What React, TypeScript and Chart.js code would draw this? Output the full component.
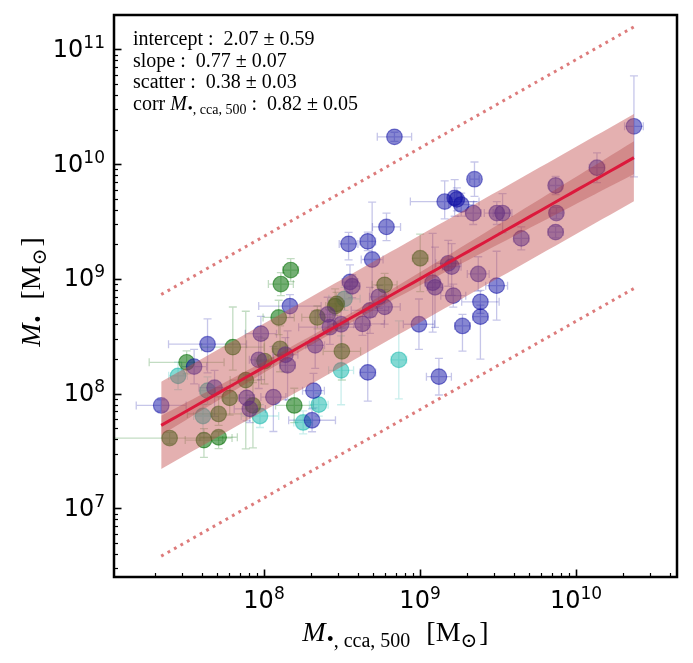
import { useEffect, useRef } from "react";
import { Chart, registerables } from "chart.js";

Chart.register(...registerables);

// Each row: [log10 M•,cca,500, log10 M•, x error (dex), y error below (dex), y error above (dex)]
type Row = [number, number, number, number, number];

const bluePoints: Row[] = [
  [8.836, 10.237, 0.11, 0.04, 0.04],
  [10.371, 10.329, 0.06, 0.44, 0.44],
  [9.349, 9.868, 0.03, 0.15, 0.15],
  [9.158, 9.673, 0.22, 0.15, 0.18],
  [9.222, 9.705, 0.04, 0.16, 0.16],
  [9.236, 9.692, 0.04, 0.1, 0.1],
  [9.264, 9.647, 0.08, 0.1, 0.1],
  [9.341, 9.573, 0.05, 0.1, 0.1],
  [9.492, 9.573, 0.08, 0.1, 0.1],
  [9.529, 9.573, 0.06, 0.17, 0.17],
  [9.869, 9.813, 0.04, 0.08, 0.08],
  [9.874, 9.573, 0.04, 0.05, 0.05],
  [9.869, 9.407, 0.05, 0.05, 0.05],
  [10.134, 9.968, 0.05, 0.13, 0.13],
  [9.649, 9.352, 0.05, 0.1, 0.1],
  [8.785, 9.452, 0.09, 0.12, 0.12],
  [8.542, 9.304, 0.06, 0.14, 0.1],
  [8.665, 9.326, 0.05, 0.08, 0.08],
  [8.693, 9.168, 0.07, 0.5, 0.5],
  [9.181, 9.135, 0.08, 0.2, 0.2],
  [9.203, 9.106, 0.06, 0.25, 0.2],
  [9.373, 9.042, 0.07, 0.15, 0.15],
  [9.491, 8.94, 0.07, 0.3, 0.3],
  [9.081, 8.966, 0.05, 0.43, 0.43],
  [9.096, 8.926, 0.05, 0.35, 0.35],
  [9.213, 8.853, 0.08, 0.1, 0.1],
  [9.387, 8.799, 0.12, 0.1, 0.1],
  [9.387, 8.67, 0.05, 0.37, 0.1],
  [9.272, 8.589, 0.05, 0.22, 0.1],
  [8.993, 8.604, 0.1, 0.22, 0.22],
  [9.121, 8.147, 0.08, 0.16, 0.16],
  [8.665, 8.184, 0.05, 0.25, 0.41],
  [8.551, 8.972, 0.05, 0.1, 0.15],
  [8.565, 8.935, 0.05, 0.1, 0.1],
  [8.736, 8.843, 0.06, 0.1, 0.1],
  [8.679, 8.725, 0.12, 0.2, 0.2],
  [8.773, 8.755, 0.1, 0.15, 0.15],
  [8.631, 8.607, 0.14, 0.1, 0.1],
  [8.494, 8.604, 0.08, 0.2, 0.2],
  [8.422, 8.578, 0.2, 0.15, 0.15],
  [8.408, 8.689, 0.06, 0.15, 0.15],
  [8.328, 8.42, 0.06, 0.2, 0.3],
  [8.317, 8.025, 0.07, 0.15, 0.15],
  [8.308, 7.767, 0.15, 0.1, 0.1],
  [8.166, 8.762, 0.2, 0.1, 0.1],
  [8.137, 8.338, 0.08, 0.15, 0.15],
  [8.151, 8.246, 0.05, 0.3, 0.3],
  [7.98, 8.522, 0.1, 0.4, 0.15],
  [7.966, 8.294, 0.06, 0.25, 0.2],
  [7.889, 7.962, 0.05, 0.2, 0.2],
  [7.909, 7.866, 0.1, 0.12, 0.12],
  [8.06, 7.969, 0.08, 0.3, 0.44],
  [7.638, 8.43, 0.25, 0.25, 0.22],
  [7.683, 8.051, 0.1, 0.25, 0.15],
  [7.552, 8.235, 0.08, 0.15, 0.15],
  [7.341, 7.896, 0.16, 0.05, 0.05],
];

const greenPoints: Row[] = [
  [9.001, 9.179, 0.05, 0.29, 0.21],
  [8.499, 8.368, 0.12, 0.25, 0.2],
  [8.773, 8.947, 0.08, 0.1, 0.1],
  [8.456, 8.762, 0.06, 0.15, 0.15],
  [8.465, 8.781, 0.05, 0.1, 0.1],
  [8.342, 8.663, 0.1, 0.1, 0.1],
  [8.194, 7.896, 0.12, 0.15, 0.15],
  [8.171, 9.076, 0.05, 0.1, 0.1],
  [8.108, 8.954, 0.08, 0.1, 0.1],
  [8.094, 8.663, 0.1, 0.15, 0.15],
  [8.103, 8.39, 0.05, 0.2, 0.2],
  [8.003, 8.283, 0.06, 0.2, 0.2],
  [7.883, 8.117, 0.1, 0.6, 0.6],
  [7.929, 7.896, 0.04, 0.37, 0.2],
  [7.8, 8.404, 0.2, 0.2, 0.35],
  [7.78, 7.962, 0.04, 0.15, 0.1],
  [7.709, 7.822, 0.2, 0.1, 0.15],
  [7.709, 7.619, 0.12, 0.1, 0.05],
  [7.615, 7.594, 0.12, 0.15, 0.1],
  [7.504, 8.272, 0.24, 0.1, 0.1],
  [7.395, 7.612, 0.4, 0.05, 0.05],
];

const cyanPoints: Row[] = [
  [8.864, 8.294, 0.05, 0.34, 0.34],
  [8.494, 8.202, 0.08, 0.3, 0.3],
  [8.516, 8.825, 0.1, 0.1, 0.1],
  [8.351, 7.903, 0.06, 0.1, 0.1],
  [8.251, 7.748, 0.06, 0.1, 0.1],
  [7.974, 7.804, 0.12, 0.1, 0.1],
  [7.638, 8.025, 0.05, 0.12, 0.12],
  [7.609, 7.804, 0.06, 0.15, 0.1],
  [7.449, 8.154, 0.06, 0.12, 0.12],
];

// Fit results: log M• = intercept + slope * log M•,cca,500
const INTERCEPT = 2.07;
const INTERCEPT_ERR = 0.59;
const SLOPE = 0.77;
const SLOPE_ERR = 0.07;
const SCATTER = 0.38;
const SCATTER_ERR = 0.03;
const CORR = 0.82;
const CORR_ERR = 0.05;
// log mass where the fitted relation is best constrained, and its uncertainty there
const PIVOT = 8.41;
const PIVOT_ERR = 0.04;

// Axis limits in log10
const X_LOG_RANGE = [7.0385, 10.647];
const Y_LOG_RANGE = [6.401, 11.299];

const SERIF = "'Liberation Serif', 'DejaVu Serif', serif";
const SANS = "'DejaVu Sans', 'Liberation Sans', sans-serif";

const BLUE = [15, 15, 165];
const GREEN = [0, 110, 0];
const CYAN = [30, 185, 175];

const rgba = (c: number[], a: number) => `rgba(${c[0]},${c[1]},${c[2]},${a})`;

const allRows = [...bluePoints, ...greenPoints, ...cyanPoints];
const fitLo = Math.min(...allRows.map((r) => r[0]));
const fitHi = Math.max(...allRows.map((r) => r[0]));
const FIT_STEPS = 60;
const fitGrid = Array.from({ length: FIT_STEPS + 1 }, (_, i) => fitLo + ((fitHi - fitLo) * i) / FIT_STEPS);

const fitAt = (lx: number) => INTERCEPT + SLOPE * lx;
const fitErrAt = (lx: number) => Math.sqrt(PIVOT_ERR ** 2 + (SLOPE_ERR * (lx - PIVOT)) ** 2);

const curve = (offset: (lx: number) => number) =>
  fitGrid.map((lx) => ({ x: 10 ** lx, y: 10 ** (fitAt(lx) + offset(lx)) }));

type Run = { text: string; size: number; italic?: boolean; dy?: number; gap?: number; family?: string };

function runFont(r: Run) {
  return `${r.italic ? "italic " : ""}${r.size}px ${r.family ?? SERIF}`;
}
function runsWidth(ctx: CanvasRenderingContext2D, runs: Run[]) {
  let w = 0;
  for (const r of runs) {
    ctx.font = runFont(r);
    w += (r.gap ?? 0) + ctx.measureText(r.text).width;
  }
  return w;
}
function drawRuns(ctx: CanvasRenderingContext2D, runs: Run[], x: number, y: number) {
  let cx = x;
  for (const r of runs) {
    ctx.font = runFont(r);
    cx += r.gap ?? 0;
    ctx.fillText(r.text, cx, y + (r.dy ?? 0));
    cx += ctx.measureText(r.text).width;
  }
}

const isDecade = (v: number) => Math.abs(Math.log10(v) - Math.round(Math.log10(v))) < 1e-9;

function logTicks(scale: any) {
  const ticks: { value: number; major: boolean }[] = [];
  const e0 = Math.floor(Math.log10(scale.min));
  const e1 = Math.ceil(Math.log10(scale.max));
  for (let e = e0; e <= e1; e++) {
    for (let m = 1; m <= 9; m++) {
      const v = m * 10 ** e;
      if (v >= scale.min && v <= scale.max) ticks.push({ value: v, major: m === 1 });
    }
  }
  scale.ticks = ticks;
}

const errorBars = {
  id: "errorBars",
  beforeDatasetsDraw(chart: any) {
    const { ctx, chartArea: a, scales } = chart;
    const xs = scales.x;
    const ys = scales.y;
    ctx.save();
    ctx.beginPath();
    ctx.rect(a.left, a.top, a.right - a.left, a.bottom - a.top);
    ctx.clip();
    const groups: [Row[], number[]][] = [
      [bluePoints, BLUE],
      [greenPoints, GREEN],
      [cyanPoints, CYAN],
    ];
    const cap = 4;
    for (const [rows, col] of groups) {
      ctx.strokeStyle = rgba(col, 0.24);
      ctx.lineWidth = 1.3;
      for (const [lx, ly, ex, eyLo, eyHi] of rows) {
        const px = xs.getPixelForValue(10 ** lx);
        const py = ys.getPixelForValue(10 ** ly);
        const x0 = xs.getPixelForValue(10 ** (lx - ex));
        const x1 = xs.getPixelForValue(10 ** (lx + ex));
        const y0 = ys.getPixelForValue(10 ** (ly - eyLo));
        const y1 = ys.getPixelForValue(10 ** (ly + eyHi));
        ctx.beginPath();
        ctx.moveTo(x0, py);
        ctx.lineTo(x1, py);
        ctx.moveTo(px, y0);
        ctx.lineTo(px, y1);
        ctx.moveTo(x0, py - cap);
        ctx.lineTo(x0, py + cap);
        ctx.moveTo(x1, py - cap);
        ctx.lineTo(x1, py + cap);
        ctx.moveTo(px - cap, y0);
        ctx.lineTo(px + cap, y0);
        ctx.moveTo(px - cap, y1);
        ctx.lineTo(px + cap, y1);
        ctx.stroke();
      }
    }
    ctx.restore();
  },
};

const frameAndText = {
  id: "frameAndText",
  afterDraw(chart: any) {
    const { ctx, chartArea: a, scales } = chart;
    const xs = scales.x;
    const ys = scales.y;
    ctx.save();
    ctx.fillStyle = "#000";
    ctx.strokeStyle = "#000";

    // inward ticks on the bottom and left spines
    for (const t of xs.ticks) {
      const px = Math.round(xs.getPixelForValue(t.value)) + 0.5;
      const major = isDecade(t.value);
      ctx.lineWidth = major ? 1.6 : 1.2;
      ctx.beginPath();
      ctx.moveTo(px, a.bottom);
      ctx.lineTo(px, a.bottom - (major ? 7.5 : 4));
      ctx.stroke();
    }
    for (const t of ys.ticks) {
      const py = Math.round(ys.getPixelForValue(t.value)) + 0.5;
      const major = isDecade(t.value);
      ctx.lineWidth = major ? 1.6 : 1.2;
      ctx.beginPath();
      ctx.moveTo(a.left, py);
      ctx.lineTo(a.left + (major ? 7.5 : 4), py);
      ctx.stroke();
    }

    // frame
    ctx.lineWidth = 2.5;
    ctx.strokeRect(a.left, a.top, a.right - a.left, a.bottom - a.top);

    // decade tick labels
    ctx.textBaseline = "alphabetic";
    ctx.textAlign = "left";
    const tickRuns = (v: number): Run[] => [
      { text: "10", size: 24, family: SANS },
      { text: String(Math.round(Math.log10(v))), size: 17, family: SANS, dy: -9 },
    ];
    for (const t of xs.ticks) {
      if (!isDecade(t.value)) continue;
      const runs = tickRuns(t.value);
      const w = runsWidth(ctx, runs);
      drawRuns(ctx, runs, xs.getPixelForValue(t.value) - w / 2, a.bottom + 31);
    }
    for (const t of ys.ticks) {
      if (!isDecade(t.value)) continue;
      const runs = tickRuns(t.value);
      const w = runsWidth(ctx, runs);
      drawRuns(ctx, runs, a.left - 9 - w, ys.getPixelForValue(t.value) + 7.5);
    }

    // axis titles
    const xTitle: Run[] = [
      { text: "M", size: 28, italic: true },
      { text: "\u2022", size: 20, dy: 5, gap: 1 },
      { text: ", cca, 500", size: 20, dy: 6 },
      { text: "[M", size: 28, gap: 16 },
      { text: "\u2299", size: 20, dy: 6 },
      { text: "]", size: 28, gap: 2 },
    ];
    const xw = runsWidth(ctx, xTitle);
    drawRuns(ctx, xTitle, (a.left + a.right) / 2 - xw / 2, a.bottom + 64);

    const yTitle: Run[] = [
      { text: "M", size: 28, italic: true },
      { text: "\u2022", size: 20, dy: 5, gap: 1 },
      { text: "[M", size: 28, gap: 16 },
      { text: "\u2299", size: 20, dy: 6 },
      { text: "]", size: 28, gap: 2 },
    ];
    const yw = runsWidth(ctx, yTitle);
    ctx.save();
    ctx.translate(40, (a.top + a.bottom) / 2 - 4);
    ctx.rotate(-Math.PI / 2);
    drawRuns(ctx, yTitle, -yw / 2, 0);
    ctx.restore();

    // fit summary
    const pm = (v: number, e: number) => `${v.toFixed(2)} \u00b1 ${e.toFixed(2)}`;
    const lines: Run[][] = [
      [{ text: `intercept :  ${pm(INTERCEPT, INTERCEPT_ERR)}`, size: 20 }],
      [{ text: `slope :  ${pm(SLOPE, SLOPE_ERR)}`, size: 20 }],
      [{ text: `scatter :  ${pm(SCATTER, SCATTER_ERR)}`, size: 20 }],
      [
        { text: "corr ", size: 20 },
        { text: "M", size: 20, italic: true },
        { text: "\u2022", size: 14, dy: 3, gap: 1 },
        { text: ", cca, 500", size: 14, dy: 4 },
        { text: ` :  ${pm(CORR, CORR_ERR)}`, size: 20 },
      ],
    ];
    const baselines = [45, 66.7, 88.3, 110];
    lines.forEach((runs, i) => drawRuns(ctx, runs, a.left + 19, baselines[i]));
    ctx.restore();
  },
};

export default function App() {
  const ref = useRef<HTMLCanvasElement | null>(null);

  useEffect(() => {
    if (!ref.current) return;
    const pointSet = (rows: Row[], col: number[], alpha: number) => ({
      type: "scatter" as const,
      data: rows.map((r) => ({ x: 10 ** r[0], y: 10 ** r[1] })),
      backgroundColor: rgba(col, alpha),
      borderColor: rgba(col, alpha),
      borderWidth: 1.2,
      pointRadius: 7.8,
      order: 10,
    });
    const lineSet = (data: { x: number; y: number }[], extra: any) => ({
      type: "line" as const,
      data,
      pointRadius: 0,
      borderWidth: 0,
      fill: false,
      tension: 0,
      ...extra,
    });
    const dotted = {
      borderWidth: 3,
      borderColor: "rgba(215,100,100,0.85)",
      borderDash: [2.8, 4.6],
      order: 3,
    };

    const chart = new Chart(ref.current, {
      type: "scatter",
      data: {
        datasets: [
          lineSet(curve(() => SCATTER), { fill: "+1", backgroundColor: "rgba(195,80,80,0.45)", order: 6 }),
          lineSet(curve(() => -SCATTER), { order: 6 }),
          lineSet(curve((lx) => fitErrAt(lx)), { fill: "+1", backgroundColor: "rgba(170,50,50,0.3)", order: 5 }),
          lineSet(curve((lx) => -fitErrAt(lx)), { order: 5 }),
          lineSet(curve(() => 3 * SCATTER), dotted),
          lineSet(curve(() => -3 * SCATTER), dotted),
          lineSet(curve(() => 0), { borderWidth: 3, borderColor: "rgb(220,25,60)", order: 0 }),
          pointSet(bluePoints, BLUE, 0.5),
          pointSet(greenPoints, GREEN, 0.55),
          pointSet(cyanPoints, CYAN, 0.55),
        ] as any,
      },
      options: {
        responsive: false,
        animation: false,
        events: [],
        layout: { padding: { left: 0, top: 15, right: 16, bottom: 0 } },
        plugins: {
          legend: { display: false },
          tooltip: { enabled: false },
        },
        scales: {
          x: {
            type: "logarithmic",
            min: 10 ** X_LOG_RANGE[0],
            max: 10 ** X_LOG_RANGE[1],
            grid: { display: false },
            border: { display: false },
            ticks: { display: false, autoSkip: false },
            afterBuildTicks: logTicks,
            afterFit: (s: any) => {
              s.height = 86;
            },
          },
          y: {
            type: "logarithmic",
            min: 10 ** Y_LOG_RANGE[0],
            max: 10 ** Y_LOG_RANGE[1],
            grid: { display: false },
            border: { display: false },
            ticks: { display: false, autoSkip: false },
            afterBuildTicks: logTicks,
            afterFit: (s: any) => {
              s.width = 114;
            },
          },
        },
      } as any,
      plugins: [errorBars, frameAndText],
    });
    return () => chart.destroy();
  }, []);

  return (
    <div style={{ position: "fixed", left: 0, top: 0, width: 693, height: 663, background: "#fff" }}>
      <canvas ref={ref} width={693} height={663} style={{ display: "block", width: 693, height: 663 }} />
    </div>
  );
}
